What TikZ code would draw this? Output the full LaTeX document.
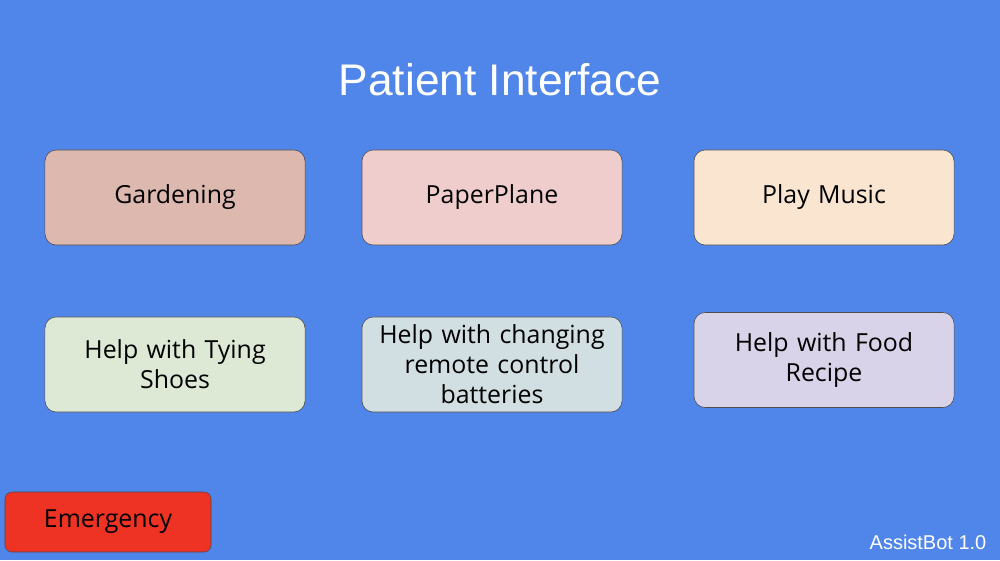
\documentclass[tikz,border=0pt]{standalone}
\usepackage{fontspec}
\setmainfont{Open Sans}
\newfontfamily\titlefont{Liberation Sans}
\definecolor{bgblue}{HTML}{5085EA}
\definecolor{cgarden}{HTML}{DDB8AE}
\definecolor{cplane}{HTML}{EFCDCC}
\definecolor{cmusic}{HTML}{F9E5D0}
\definecolor{cshoes}{HTML}{DDE9D5}
\definecolor{cbatt}{HTML}{D1DEE2}
\definecolor{cfood}{HTML}{D8D3E8}
\definecolor{cemerg}{HTML}{EE3325}
\tikzset{
  taskbox/.style={draw=black!70, rounded corners=8pt, minimum width=6.5cm, minimum height=2.375cm,
    align=center, text width=6.3cm, font=\fontsize{17.7}{21.3}\selectfont, inner sep=0pt},
}
\begin{document}
\begin{tikzpicture}[x=0.025cm, y=-0.025cm]
  \fill[bgblue] (0,0) rectangle (1000,560);
  \useasboundingbox (0,0) rectangle (1000,560);
  \node[white, font=\titlefont\fontsize{31.5}{36}\selectfont] (title) at (500,80) {Patient Interface};
  % first row
  \node[taskbox, fill=cgarden] (garden) at (175,197.5) {\strut Gardening};
  \node[taskbox, fill=cplane] (plane) at (492,197.5) {\strut PaperPlane};
  \node[taskbox, fill=cmusic] (music) at (824,197.5) {\strut Play Music};
  % second row
  \node[taskbox, fill=cshoes] (shoes) at (175,364.5) {Help with Tying\\Shoes};
  \node[taskbox, fill=cbatt] (batt) at (492,364.5) {Help with changing\\remote control\\batteries};
  \node[taskbox, fill=cfood] (food) at (824,360) {Help with Food\\Recipe};
  \node[taskbox, fill=cemerg, minimum width=5.15cm, minimum height=1.5cm, text width=5cm,
    rounded corners=5pt] (emerg) at (108,522) {\strut Emergency};
  \node[white, font=\titlefont\fontsize{14.2}{17}\selectfont] (version) at (928,542) {AssistBot 1.0};
\end{tikzpicture}
\end{document}
